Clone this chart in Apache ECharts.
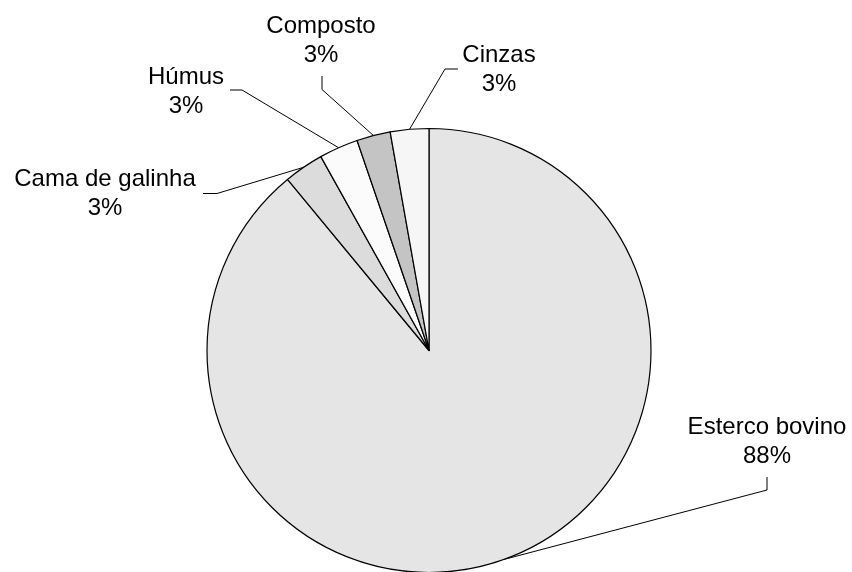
<!DOCTYPE html>
<html><head><meta charset="utf-8">
<script src="https://cdn.jsdelivr.net/npm/echarts@6/dist/echarts.min.js"></script>
<style>html,body{margin:0;padding:0;background:#fff}#c{width:852px;height:572px}</style>
</head><body><div id="c"></div>
<script>
const categories = ['Esterco bovino', 'Cama de galinha', 'Húmus', 'Composto', 'Cinzas'];
// slice sizes as drawn in the picture
const values = [89.0, 2.9, 2.85, 2.45, 2.8];
// percentages as printed on the labels
const labelPct = ['88%', '3%', '3%', '3%', '3%'];
const colors = ['#e5e5e5', '#dcdcdc', '#fbfbfb', '#c4c4c4', '#f6f6f6'];
// label placement: [labelCenterX, labelCenterY, elbowX, elbowY, endX, endY]
const labelPos = [
  [767, 442, 767, 490, 767, 477],
  [105, 194, 217, 193.5, 203, 193.5],
  [186, 92, 242, 90, 230, 90],
  [321, 41, 322, 89.5, 322, 76],
  [499, 70, 445, 69, 458, 69]
];

const chart = echarts.init(document.getElementById('c'), null, {renderer: 'canvas'});
chart.setOption({
  animation: false,
  backgroundColor: '#fff',
  series: [{
    type: 'pie',
    center: [429, 350.5],
    radius: 222,
    startAngle: 90,
    clockwise: true,
    avoidLabelOverlap: false,
    minAngle: 0,
    data: categories.map((n, i) => ({name: n, value: values[i], itemStyle: {color: colors[i]}})),
    itemStyle: {borderColor: '#000', borderWidth: 1.2},
    label: {
      show: true,
      position: 'outside',
      formatter: p => p.name + '\n' + labelPct[p.dataIndex],
      fontFamily: '"Liberation Sans", Arial, sans-serif',
      fontSize: 24,
      lineHeight: 29,
      color: '#000',
      align: 'center'
    },
    labelLine: {show: true, smooth: false, length: 20, length2: 10, lineStyle: {color: '#000', width: 1}},
    labelLayout: function (params) {
      const p = labelPos[params.dataIndex];
      const out = {x: p[0], y: p[1], align: 'center', verticalAlign: 'middle'};
      if (params.labelLinePoints && params.labelLinePoints[0]) {
        out.labelLinePoints = [params.labelLinePoints[0], [p[2], p[3]], [p[4], p[5]]];
      }
      return out;
    },
    emphasis: {disabled: true}
  }]
});
</script>
</body></html>
